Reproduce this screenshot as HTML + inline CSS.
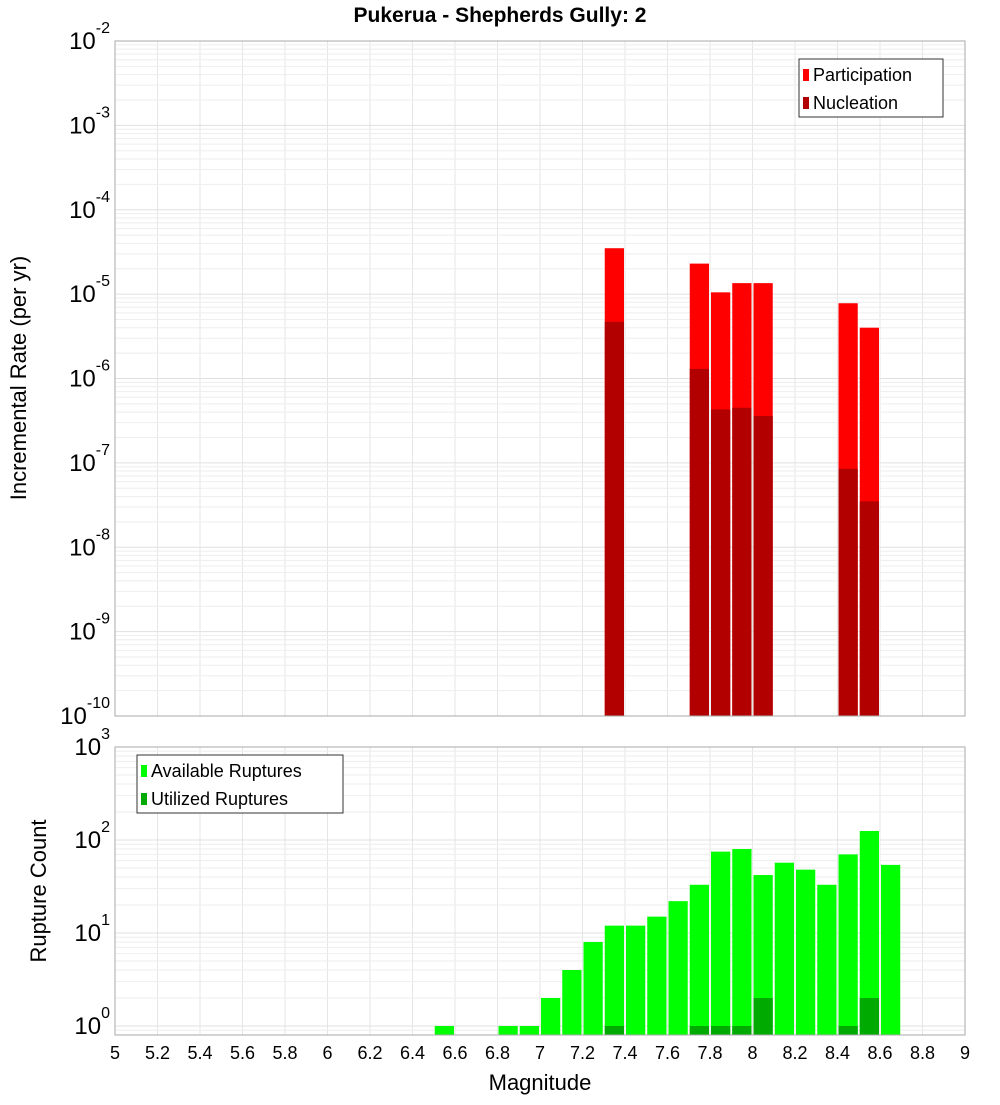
<!DOCTYPE html>
<html><head><meta charset="utf-8"><style>
body{margin:0;background:#fff;font-family:"Liberation Sans","DejaVu Sans",sans-serif}
</style></head><body>
<svg id="c" width="1000" height="1100" xmlns="http://www.w3.org/2000/svg"></svg>
<script>
const magsTop=[7.35,7.75,7.85,7.95,8.05,8.45,8.55];
const participation=[3.5e-5,2.3e-5,1.05e-5,1.35e-5,1.35e-5,7.8e-6,4e-6];
const nucleation=[4.7e-6,1.3e-6,4.3e-7,4.5e-7,3.6e-7,8.5e-8,3.5e-8];
const magsBot=[6.55,6.85,6.95,7.05,7.15,7.25,7.35,7.45,7.55,7.65,7.75,7.85,7.95,8.05,8.15,8.25,8.35,8.45,8.55,8.65];
const available=[1,1,1,2,4,8,12,12,15,22,33,75,80,42,57,48,33,70,125,54];
const magsUtil=[7.35,7.75,7.85,7.95,8.05,8.45,8.55];
const utilized=[1,1,1,1,2,1,2];
const xTicks=["5","5.2","5.4","5.6","5.8","6","6.2","6.4","6.6","6.8","7","7.2","7.4","7.6","7.8","8","8.2","8.4","8.6","8.8","9"];
const topExps=[-10,-9,-8,-7,-6,-5,-4,-3,-2];
const botExps=[0,1,2,3];

const svg=document.getElementById('c');const NS='http://www.w3.org/2000/svg';
function el(t,a,p){const e=document.createElementNS(NS,t);for(const k in a)e.setAttribute(k,a[k]);(p||svg).appendChild(e);return e;}
const X0=115,X1=965;
const x=m=>X0+(m-5)/4*(X1-X0);
const T0=41,T1=716;
const yT=v=>T0+(-2-Math.log10(v))/8*(T1-T0);
const B0=747,Bpd=93;
const yB=v=>B0+(3-Math.log10(v))*Bpd;
const B1=1035;

function grid(top,bot,yf,e0,e1){
  const g=el('g',{});
  
  for(let i=0;i<=20;i++)el('line',{x1:x(5+i*0.2),x2:x(5+i*0.2),y1:top,y2:bot,stroke:'#e6e6e6'},g);
  for(let e=e0;e<=e1;e++)for(let k=1;k<10;k++){const y=yf(k*Math.pow(10,e));if(y>=top&&y<=bot)el('line',{x1:X0,x2:X1,y1:y,y2:y,stroke:k==1?'#e0e0e0':'#eeeeee'},g);}
}
// panels
let r=el('rect',{x:X0,y:T0,width:X1-X0,height:T1-T0,fill:'#fff'});
grid(T0,T1,yT,-10,-2);
grid(B0,B1,yB,-1,3);
// top bars
magsTop.forEach((m,i)=>{
  let b=el('rect',{x:x(m-0.05)+1,y:yT(participation[i]),width:x(5.1)-x(5)-2,height:T1-yT(participation[i]),fill:'#ff0000'});
  
  let n=el('rect',{x:x(m-0.05)+1,y:yT(nucleation[i]),width:x(5.1)-x(5)-2,height:T1-yT(nucleation[i]),fill:'#b20000'});
  
});
magsBot.forEach((m,i)=>{
  let b=el('rect',{x:x(m-0.05)+1,y:yB(available[i]),width:x(5.1)-x(5)-2,height:B1-yB(available[i]),fill:'#00ff00'});
  
});
magsUtil.forEach((m,i)=>{
  let b=el('rect',{x:x(m-0.05)+1,y:yB(utilized[i]),width:x(5.1)-x(5)-2,height:B1-yB(utilized[i]),fill:'#00aa00'});
  
});
el('rect',{x:X0,y:T0,width:X1-X0,height:T1-T0,fill:'none',stroke:'#aaa'});
el('rect',{x:X0,y:B0,width:X1-X0,height:B1-B0,fill:'none',stroke:'#aaa'});
// y ticks
function ylab(y,e){const t=el('text',{x:110,y:y+8,'text-anchor':'end','font-size':24,fill:'#000'});
  
  t.textContent='10';const s=el('tspan',{dy:-16,'font-size':16},t);s.textContent=String(e);}
topExps.forEach(e=>ylab(yT(Math.pow(10,e)),e));
botExps.forEach(e=>ylab(yB(Math.pow(10,e)),e));
xTicks.forEach(s=>{const t=el('text',{x:x(+s),y:1059,'text-anchor':'middle','font-size':18});
  t.textContent=s;});
function txt(s,a,name){const t=el('text',a);t.textContent=s;return t;}
txt('Pukerua - Shepherds Gully: 2',{x:500,y:22,'text-anchor':'middle','font-size':21,'font-weight':'bold'},'chart-title');
txt('Magnitude',{x:540,y:1090,'text-anchor':'middle','font-size':22},'x-axis-title');
txt('Incremental Rate (per yr)',{x:0,y:0,transform:'translate(26,378) rotate(-90)','text-anchor':'middle','font-size':22},'y-axis-title-top');
txt('Rupture Count',{x:0,y:0,transform:'translate(46,891) rotate(-90)','text-anchor':'middle','font-size':22},'y-axis-title-bottom');
// legends
function legend(x0,y0,w,items,name){const g=el('g',{});
  el('rect',{x:x0,y:y0,width:w,height:58,fill:'#fff',stroke:'#333'},g);
  items.forEach((it,i)=>{el('rect',{x:x0+4,y:y0+10+i*28,width:6,height:12,fill:it[1]},g);
    const t=el('text',{x:x0+14,y:y0+22+i*28,'font-size':18},g);t.textContent=it[0];});}
legend(799,59,144,[['Participation','#ff0000'],['Nucleation','#b20000']],'legend-top');
legend(137,755,206,[['Available Ruptures','#00ff00'],['Utilized Ruptures','#00aa00']],'legend-bottom');
</script>
</body></html>
